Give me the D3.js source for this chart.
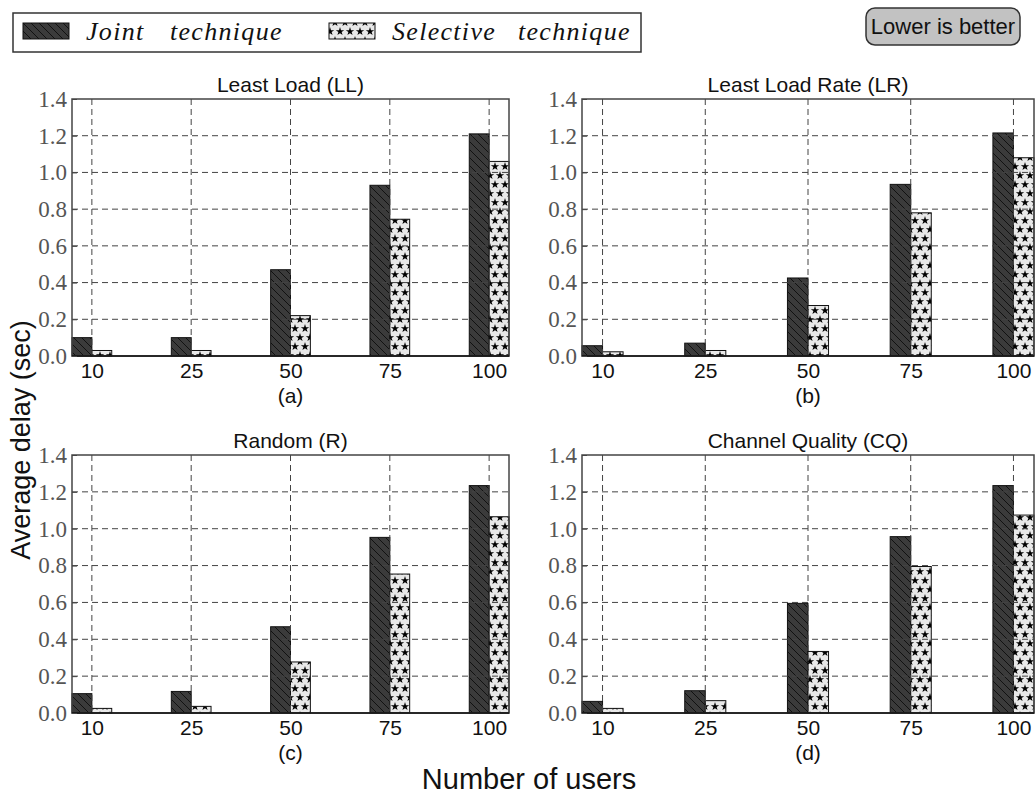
<!DOCTYPE html>
<html>
<head>
<meta charset="utf-8">
<script src="https://d3js.org/d3.v7.min.js"></script>
<style>
  body { margin: 0; background: #fff; }
</style>
</head>
<body>
<svg width="1036" height="795"></svg>
<script>
  // values
  var users = ["10", "25", "50", "75", "100"];
  var titles = ["Least Load (LL)", "Least Load Rate (LR)", "Random (R)", "Channel Quality (CQ)"];
  var sublabels = ["(a)", "(b)", "(c)", "(d)"];
  var jointLL = [0.10, 0.10, 0.47, 0.93, 1.21];
  var selectiveLL = [0.03, 0.03, 0.22, 0.745, 1.06];
  var jointLR = [0.056, 0.07, 0.425, 0.935, 1.215];
  var selectiveLR = [0.023, 0.03, 0.275, 0.78, 1.08];
  var jointR = [0.105, 0.117, 0.468, 0.953, 1.234];
  var selectiveR = [0.025, 0.036, 0.277, 0.754, 1.065];
  var jointCQ = [0.063, 0.121, 0.595, 0.957, 1.234];
  var selectiveCQ = [0.025, 0.067, 0.334, 0.795, 1.074];
  var yTicks = [0, 0.2, 0.4, 0.6, 0.8, 1.0, 1.2, 1.4];
  var legendNames = ["Joint", "technique", "Selective", "technique"];

  var joint = [jointLL, jointLR, jointR, jointCQ];
  var selective = [selectiveLL, selectiveLR, selectiveR, selectiveCQ];

  var SERIF = "'Liberation Serif', 'DejaVu Serif', serif";
  var SANS = "'Liberation Sans', Arial, sans-serif";

  var svg = d3.select("svg");
  var defs = svg.append("defs");

  // hatch for joint technique
  var hatch = defs.append("pattern")
    .attr("id", "hatch")
    .attr("patternUnits", "userSpaceOnUse")
    .attr("width", 8).attr("height", 8);
  hatch.append("rect").attr("width", 8).attr("height", 8).attr("fill", "#3b3b3b");
  hatch.append("path")
    .attr("d", "M-2,-2 L10,10 M-2,6 L2,10 M6,-2 L10,2")
    .attr("stroke", "#111").attr("stroke-width", 1);

  // stars for selective technique
  var stars = defs.append("pattern")
    .attr("id", "stars")
    .attr("patternUnits", "userSpaceOnUse")
    .attr("width", 10).attr("height", 18);
  stars.append("rect").attr("width", 10).attr("height", 18).attr("fill", "#e8e8e8");
  var star = d3.symbol().type(d3.symbolStar).size(22);
  [[5, 4.5], [0, 13.5], [10, 13.5]].forEach(function(p) {
    stars.append("path")
      .attr("d", star())
      .attr("transform", "translate(" + p[0] + "," + p[1] + ")")
      .attr("fill", "#000");
  });

  var boxes = [
    {x0: 72, x1: 509, y0: 99, y1: 356},
    {x0: 582, x1: 1034, y0: 99, y1: 356},
    {x0: 72, x1: 509, y0: 455, y1: 713},
    {x0: 582, x1: 1034, y0: 455, y1: 713}
  ];

  boxes.forEach(function(b, k) {
    var x = d3.scaleLinear().domain([-0.2, 4.2]).range([b.x0, b.x1]);
    var y = d3.scaleLinear().domain([0, 1.4]).range([b.y1, b.y0]);
    var g = svg.append("g");

    // bars
    g.selectAll(".joint")
      .data(joint[k])
      .enter().append("rect")
      .attr("x", function(d, i) { return x(i - 0.2); })
      .attr("y", function(d) { return y(d); })
      .attr("width", function(d, i) { return x(i) - x(i - 0.2); })
      .attr("height", function(d) { return y(0) - y(d); })
      .attr("fill", "url(#hatch)")
      .attr("stroke", "#111").attr("stroke-width", 1);

    g.selectAll(".sel")
      .data(selective[k])
      .enter().append("rect")
      .attr("x", function(d, i) { return x(i); })
      .attr("y", function(d) { return y(d); })
      .attr("width", function(d, i) { return x(i + 0.2) - x(i); })
      .attr("height", function(d) { return y(0) - y(d); })
      .attr("fill", "url(#stars)")
      .attr("stroke", "#111").attr("stroke-width", 1);

    // dashed grid on top of the bars
    g.selectAll(".hgrid")
      .data(yTicks.slice(1, -1))
      .enter().append("line")
      .attr("x1", b.x0).attr("x2", b.x1)
      .attr("y1", function(d) { return y(d); })
      .attr("y2", function(d) { return y(d); })
      .attr("stroke", "#444").attr("stroke-width", 1)
      .attr("stroke-dasharray", "6,4");
    g.selectAll(".vgrid")
      .data(users)
      .enter().append("line")
      .attr("x1", function(d, i) { return x(i); })
      .attr("x2", function(d, i) { return x(i); })
      .attr("y1", b.y0).attr("y2", b.y1)
      .attr("stroke", "#444").attr("stroke-width", 1)
      .attr("stroke-dasharray", "6,4");

    // frame
    g.append("rect")
      .attr("x", b.x0).attr("y", b.y0)
      .attr("width", b.x1 - b.x0).attr("height", b.y1 - b.y0)
      .attr("fill", "none").attr("stroke", "#444").attr("stroke-width", 1.5);
    g.append("line")
      .attr("x1", b.x0).attr("x2", b.x1)
      .attr("y1", b.y1).attr("y2", b.y1)
      .attr("stroke", "#111").attr("stroke-width", 1.5);

    // y axis
    var ya = g.append("g")
      .attr("transform", "translate(" + b.x0 + ",0)")
      .call(d3.axisLeft(y).tickValues(yTicks).tickFormat(d3.format(".1f")).tickSize(-5).tickPadding(5))
      .attr("font-family", SERIF).attr("font-size", 23);
    ya.select(".domain").remove();
    ya.selectAll("line").attr("stroke", "#444");
    ya.selectAll("text")
      .style("font-family", SERIF)
      .style("font-size", "23px")
      .attr("fill", "#555");

    // x axis
    var xa = g.append("g")
      .attr("transform", "translate(0," + b.y1 + ")")
      .call(d3.axisBottom(x).tickValues([0, 1, 2, 3, 4])
        .tickFormat(function(d) { return users[d]; }).tickSize(0).tickPadding(7))
      .attr("font-family", SANS).attr("font-size", 21);
    xa.select(".domain").remove();
    xa.selectAll("text")
      .style("font-family", SANS)
      .style("font-size", "21px")
      .attr("fill", "#111");

    // titles
    g.append("text")
      .attr("x", (b.x0 + b.x1) / 2).attr("y", b.y0 - 7)
      .attr("text-anchor", "middle")
      .style("font-family", SANS).style("font-size", "21px")
      .attr("fill", "#111")
      .text(titles[k]);
    g.append("text")
      .attr("x", (b.x0 + b.x1) / 2).attr("y", b.y1 + 47)
      .attr("text-anchor", "middle")
      .style("font-family", SANS).style("font-size", "21px")
      .attr("fill", "#111")
      .text(sublabels[k]);
  });

  // axis labels
  svg.append("text")
    .attr("x", 529).attr("y", 789)
    .attr("text-anchor", "middle")
    .style("font-family", SANS).style("font-size", "29px")
    .attr("fill", "#111")
    .text("Number of users");
  svg.append("text")
    .attr("transform", "translate(30,440) rotate(-90)")
    .attr("text-anchor", "middle")
    .style("font-family", SANS).style("font-size", "27px")
    .attr("fill", "#111")
    .text("Average delay (sec)");

  // legend
  var lg = svg.append("g");
  lg.append("rect")
    .attr("x", 13).attr("y", 13).attr("width", 628).attr("height", 39)
    .attr("fill", "#fff").attr("stroke", "#333").attr("stroke-width", 1.5);
  lg.append("rect")
    .attr("x", 23).attr("y", 23).attr("width", 46).attr("height", 16)
    .attr("fill", "url(#hatch)").attr("stroke", "#111");
  lg.append("rect")
    .attr("x", 329).attr("y", 23).attr("width", 46).attr("height", 16)
    .attr("fill", "url(#stars)").attr("stroke", "#111");
  var legendX = [86, 170, 392, 518];
  legendNames.forEach(function(t, i) {
    lg.append("text")
      .attr("x", legendX[i]).attr("y", 40)
      .style("font-family", SERIF)
      .style("font-style", "italic")
      .style("font-size", "26px")
      .style("letter-spacing", "1.3px")
      .attr("fill", "#111")
      .text(t);
  });

  // note box
  svg.append("rect")
    .attr("x", 866).attr("y", 8).attr("width", 154).attr("height", 37)
    .attr("rx", 9)
    .attr("fill", "#c2c2c2").attr("stroke", "#333").attr("stroke-width", 1.5);
  svg.append("text")
    .attr("x", 943).attr("y", 34)
    .attr("text-anchor", "middle")
    .style("font-family", SANS).style("font-size", "22px")
    .attr("fill", "#111")
    .text("Lower is better");
</script>
</body>
</html>
